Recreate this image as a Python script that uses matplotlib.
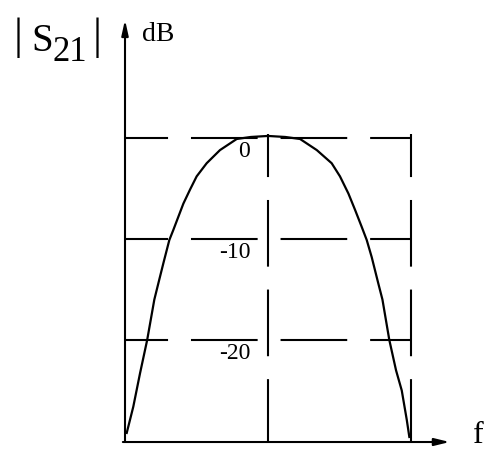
import matplotlib
matplotlib.use("Agg")
import matplotlib.pyplot as plt

plt.rcParams['font.family'] = ['Liberation Serif', 'DejaVu Serif']
plt.rcParams['lines.scale_dashes'] = False

# |S21| response (dB) vs normalised frequency, centre at f = 1
curve_f = [0.012, 0.058, 0.105, 0.155, 0.205, 0.240, 0.270, 0.310, 0.338,
           0.373, 0.408, 0.455, 0.501, 0.571, 0.664, 0.781, 0.88, 1.0,
           1.12, 1.224, 1.341, 1.445, 1.503, 1.562, 1.608, 1.655, 1.690,
           1.725, 1.771, 1.800, 1.848, 1.895, 1.935, 1.970, 1.988]
curve_db = [-29.2, -26.6, -23.3, -20.0, -16.0, -14.0, -12.3, -10.1, -9.1,
            -7.8, -6.5, -5.1, -3.8, -2.5, -1.2, -0.1, 0.1, 0.2,
            0.1, -0.1, -1.2, -2.5, -3.8, -5.5, -7.1, -8.8, -10.1,
            -11.8, -14.4, -16.0, -20.0, -23.0, -25.0, -27.9, -29.6]

grid_levels = [0, -10, -20]
level_labels = ['0', '-10', '-20']
marker_freqs = [1.0, 2.0]
floor_db = -30.1
top_db = 11.7
f_end = 2.27

fig = plt.figure(figsize=(4.87, 4.51), dpi=100)
ax = fig.add_axes([0, 0, 1, 1])
ax.set_xlim(-0.874, 2.531)
ax.set_ylim(-30.99, 13.66)
ax.axis('off')

lw = 1.5
dash = (17.0, (48.0, 16.5))

# dashed reference levels
for lev in grid_levels:
    ax.plot([0, marker_freqs[-1]], [lev, lev], color='black', lw=lw,
            linestyle=dash, dash_capstyle='butt')
for fm in marker_freqs:
    ax.plot([fm, fm], [grid_levels[0] + 0.4, floor_db], color='black', lw=lw,
            linestyle=dash, dash_capstyle='butt')

# response curve
ax.plot(curve_f, curve_db, color='black', lw=1.6)

# axes with arrows
ax.annotate('', xy=(0, top_db), xytext=(0, floor_db),
            arrowprops=dict(arrowstyle='-|>,head_length=0.9,head_width=0.2',
                            color='black', lw=lw, shrinkA=0, shrinkB=0))
ax.annotate('', xy=(f_end, floor_db), xytext=(-0.015, floor_db),
            arrowprops=dict(arrowstyle='-|>,head_length=0.9,head_width=0.22',
                            color='black', lw=lw, shrinkA=0, shrinkB=0))

# level labels
for lev, lab in zip(grid_levels, level_labels):
    ax.text(0.875, lev - 1.3, lab, ha='right', va='center', fontsize=17)

# axis titles
ax.text(0.23, 10.2, 'dB', ha='center', va='center', fontsize=20)
ax.text(2.47, floor_db + 0.6, 'f', ha='center', va='center', fontsize=23)
ax.text(-0.749, 9.9, '|', ha='center', va='center', fontsize=32)
ax.text(-0.579, 9.6, 'S', ha='center', va='center', fontsize=28)
ax.text(-0.385, 8.5, '21', ha='center', va='center', fontsize=25)
ax.text(-0.196, 9.9, '|', ha='center', va='center', fontsize=32)

fig.savefig('out.png', dpi=100)
